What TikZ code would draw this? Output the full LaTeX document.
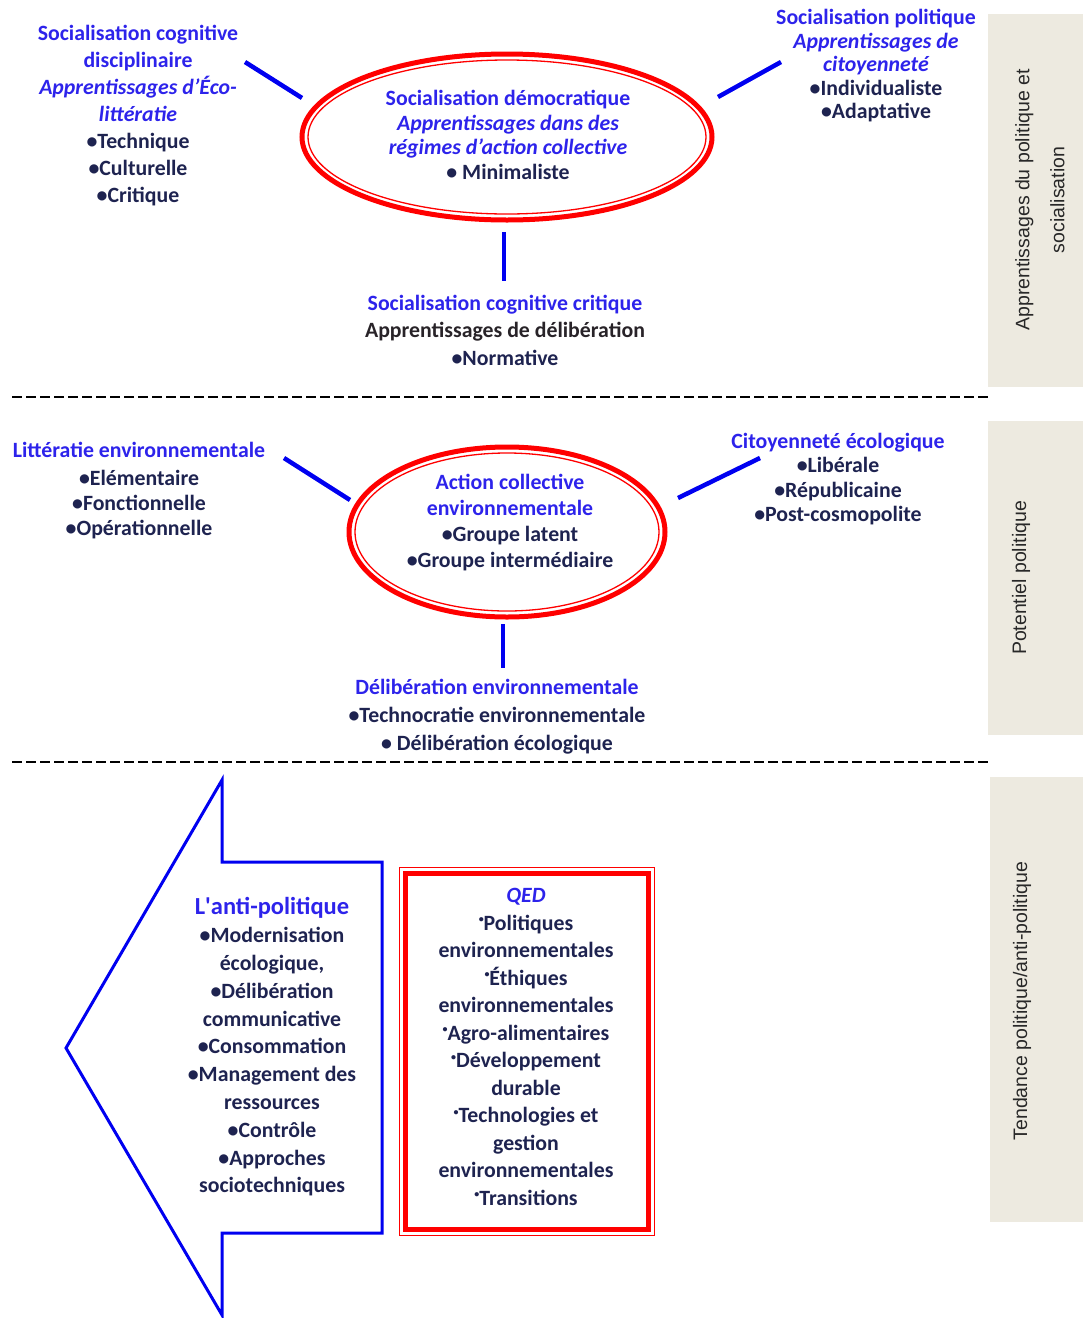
\documentclass[tikz,border=0pt]{standalone}
\usepackage{fontspec}
\setmainfont{Carlito}
\newfontfamily\sidefont{Liberation Sans}
\usetikzlibrary{shapes.geometric}
\definecolor{tblue}{RGB}{45,35,235}
\definecolor{navy}{RGB}{30,35,80}
\definecolor{darkt}{RGB}{40,35,40}
\definecolor{cblue}{RGB}{0,0,240}
\definecolor{ered}{RGB}{255,0,0}
\definecolor{beige}{RGB}{237,234,224}
\definecolor{sidegray}{RGB}{40,40,40}
\newcommand\Tb[1]{{\color{tblue}#1}}
\newcommand\Ti[1]{{\color{tblue}\itshape #1}}
\newcommand\qb{\raisebox{0.35em}{\fontsize{10}{10}\selectfont•}}
\begin{document}
\begin{tikzpicture}[x=1pt,y=-1pt,
  lbl/.style={align=center, text=navy, inner sep=0pt},
  fs/.style={font=\fontsize{21.8}{#1}\selectfont\bfseries},
  conn/.style={draw=cblue, line width=4.5pt},
  sidebox/.style={fill=beige, draw=none},
  sidetxt/.style={rotate=90, align=center, text=sidegray, font=\sidefont\fontsize{19.5}{35}\selectfont},
  sep/.style={draw=black, line width=1.3pt, dash pattern=on 10pt off 4pt},
  redell/.style={ellipse, draw=ered, line width=5pt, inner sep=0pt},
  blueshape/.style={draw=cblue, line width=3pt},
]
\path[use as bounding box] (0,0) rectangle (1083,1318);

% side panels
\node[sidebox, minimum width=95pt, minimum height=373pt, anchor=north west] (p1) at (988,14) {};
\node[sidebox, minimum width=95pt, minimum height=314pt, anchor=north west] (p2) at (988,421) {};
\node[sidebox, minimum width=93pt, minimum height=445pt, anchor=north west] (p3) at (990,777) {};
\node[sidetxt] (p1t) at (1040,200) {Apprentissages du politique et\\socialisation};
\node[sidetxt] (p2t) at (1021,578) {Potentiel politique};
\node[sidetxt] (p3t) at (1022,1001) {Tendance politique/anti-politique};

% separators
\coordinate (s1a) at (12,397); \coordinate (s1b) at (990,397);
\coordinate (s2a) at (12,762); \coordinate (s2b) at (990,762);
\draw[sep] (s1a) -- (s1b);
\draw[sep] (s2a) -- (s2b);

% ===== top section =====
\node[redell, minimum width=410pt, minimum height=166pt] (e1) at (507,137) {};
\draw[ered, line width=1.3pt] (507,137) ellipse [x radius=199pt, y radius=77pt];
\node[lbl, fs=24.5] (e1t) at (508,135) {\Tb{Socialisation démocratique}\\\Ti{Apprentissages dans des}\\\Ti{régimes d’action collective}\\• Minimaliste};

\node[lbl, fs=27] (tl) at (138,116) {\Tb{Socialisation cognitive}\\\Tb{disciplinaire}\\\Ti{Apprentissages d’Éco-}\\\Ti{littératie}\\•Technique\\•Culturelle\\•Critique};
\node[lbl, fs=23.5] (tr) at (876,66) {\Tb{Socialisation politique}\\\Ti{Apprentissages de}\\\Ti{citoyenneté}\\•Individualiste\\•Adaptative};
\node[lbl, fs=27.5] (tb) at (505,330) {\Tb{Socialisation cognitive critique}\\{\color{darkt}Apprentissages de délibération}\\•Normative};

\coordinate (c1a) at (245,62); \coordinate (c1b) at (302,98);
\coordinate (c2a) at (718,97); \coordinate (c2b) at (781,62);
\coordinate (c3a) at (504,232); \coordinate (c3b) at (504,281);
\draw[conn] (c1a) -- (c1b);
\draw[conn] (c2a) -- (c2b);
\draw[conn] (c3a) -- (c3b);

% ===== middle section =====
\node[redell, minimum width=316pt, minimum height=170pt] (e2) at (507,532) {};
\draw[ered, line width=1.3pt] (507,532) ellipse [x radius=152pt, y radius=79pt];
\node[lbl, fs=26] (e2t) at (510,523) {\Tb{Action collective}\\\Tb{environnementale}\\•Groupe latent\\•Groupe intermédiaire};

\node[lbl, fs=25] (ml) at (139,491) {\Tb{Littératie environnementale}\\[3pt]•Elémentaire\\•Fonctionnelle\\•Opérationnelle};
\node[lbl, fs=24.3] (mr) at (838,479) {\Tb{Citoyenneté écologique}\\•Libérale\\•Républicaine\\•Post-cosmopolite};
\node[lbl, fs=28] (mb) at (497,717) {\Tb{Délibération environnementale}\\•Technocratie environnementale\\• Délibération écologique};

\coordinate (c4a) at (284,458); \coordinate (c4b) at (350,500);
\coordinate (c5a) at (678,498); \coordinate (c5b) at (760,458);
\coordinate (c6a) at (503,624); \coordinate (c6b) at (503,668);
\draw[conn] (c4a) -- (c4b);
\draw[conn] (c5a) -- (c5b);
\draw[conn] (c6a) -- (c6b);

% ===== bottom section =====
\draw[blueshape] (66,1048) -- (222,780) -- (222,862) -- (382,862) -- (382,1233) -- (222,1233) -- (222,1315) -- cycle;
\node[lbl, fs=27.8] (at) at (272,1047) {{\color{tblue}\fontsize{24.5}{27.8}\selectfont L\textquotesingle anti-politique}\\•Modernisation\\écologique,\\•Délibération\\communicative\\•Consommation\\•Management des\\ressources\\•Contrôle\\•Approches\\sociotechniques};

\draw[ered, line width=1pt] (399,867) rectangle (654,1235);
\draw[ered, line width=5pt] (405,873) rectangle (648,1229);
\node[lbl, fs=27.5] (qed) at (526,1047) {\Ti{QED}\\\qb Politiques\\environnementales\\\qb Éthiques\\environnementales\\\qb Agro-alimentaires\\\qb Développement\\durable\\\qb Technologies et\\gestion\\environnementales\\\qb Transitions};
\end{tikzpicture}
\end{document}
